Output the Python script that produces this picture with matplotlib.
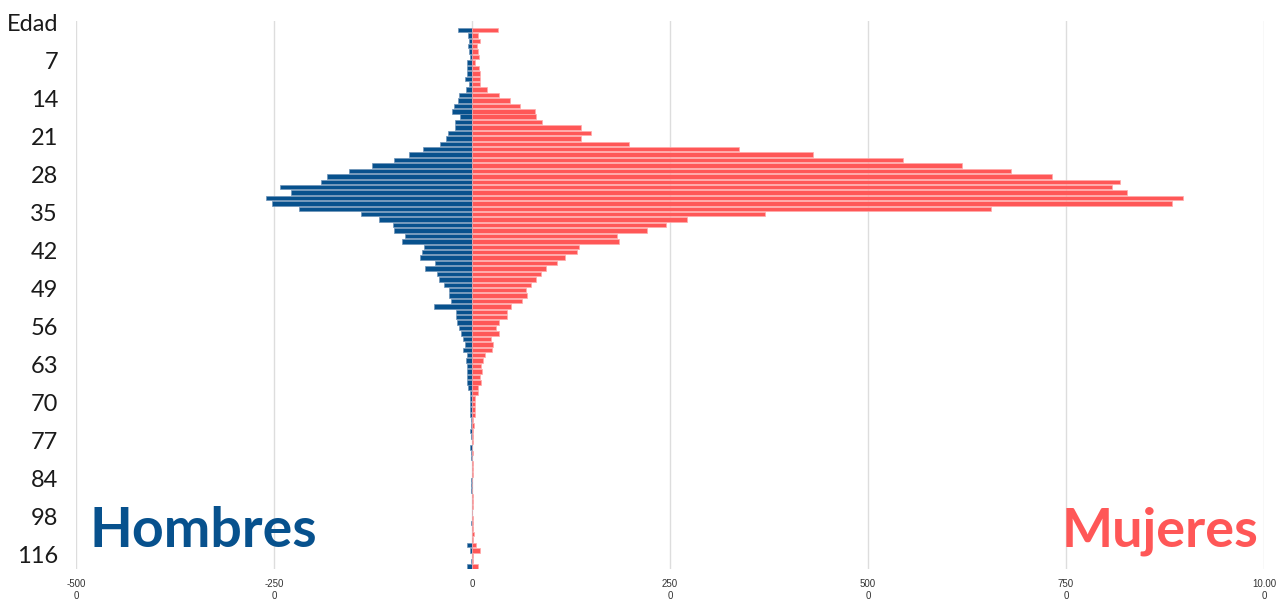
import matplotlib
matplotlib.use("Agg")
import matplotlib.pyplot as plt
import matplotlib.transforms as mtransforms
import numpy as np

# age groups (top row shows "Edad" as axis header)
edades = list(range(0, 85)) + [85, 86, 87, 88, 89, 91, 98, 100, 101, 102, 104,
                               107, 110, 116, 120]

hombres = [180, 50, 34, 55, 42, 26, 60, 60, 60, 93,
           42, 80, 170, 182, 233, 250, 148, 216, 216, 305,
           322, 410, 620, 800, 990, 1260, 1550, 1830, 1910, 2430,
           2290, 2600, 2530, 2180, 1400, 1170, 1000, 980, 840, 880,
           610, 630, 660, 470, 590, 440, 420, 350, 290, 290,
           270, 475, 200, 200, 186, 165, 144, 110, 93, 114,
           68, 80, 59, 59, 68, 59, 50, 30, 20, 30,
           30, 20, 17, 17, 25, 17, 5, 20, 8, 8,
           0, 0, 0, 8, 8, 8, 0, 0, 0, 3,
           0, 8, 0, 0, 0, 59, 20, 0, 8, 59]

mujeres = [330, 80, 100, 63, 72, 84, 34, 84, 100, 100,
           100, 185, 340, 480, 610, 795, 803, 880, 1380, 1500,
           1374, 1980, 3370, 4300, 5440, 6190, 6810, 7320, 8180, 8080,
           8270, 8980, 8840, 6550, 3700, 2710, 2450, 2210, 1830, 1860,
           1350, 1320, 1170, 1070, 930, 875, 810, 740, 680, 690,
           630, 495, 440, 444, 346, 300, 338, 245, 260, 250,
           160, 135, 118, 122, 97, 110, 80, 74, 44, 34,
           34, 38, 17, 20, 17, 8, 13, 5, 8, 0,
           13, 13, 13, 0, 0, 0, 13, 13, 13, 3,
           13, 13, 15, 20, 13, 46, 95, 13, 13, 76]

xticks = [-5000, -2500, 0, 2500, 5000, 7500, 10000]
xtick_labels = ["-500\n0", "-250\n0", "0", "250\n0", "500\n0", "750\n0", "10.00\n0"]

azul = "#07518d"
rojo = "#ff5757"

W, H = 1277, 601
fig = plt.figure(figsize=(W / 100, H / 100), dpi=100)
ax = fig.add_axes([76 / W, (H - 569) / H, (1264 - 76) / W, (569 - 21) / H])

pos = np.arange(len(edades))
ax.barh(pos, -np.array(hombres), height=0.82, color=azul,
        edgecolor="#6f93b8", linewidth=0.5, zorder=2)
ax.barh(pos, mujeres, height=0.82, color=rojo,
        edgecolor="#ffaaaa", linewidth=0.5, zorder=2)

ax.set_xlim(-5000, 10000)
ax.set_ylim(99.45, -1.66)

ax.set_xticks(xticks)
ax.set_xticklabels(xtick_labels, fontsize=7, family="Liberation Sans",
                   color="#333333", linespacing=1.25)
ax.xaxis.grid(True, color="#dddddd", linewidth=1, zorder=0)
ax.set_axisbelow(True)

# y labels every 7 rows, drawn a little above their row like the original
ax.set_yticks([])
lab_tr = ax.get_yaxis_transform() + mtransforms.ScaledTranslation(
    -18 / 100, 5 / 100, fig.dpi_scale_trans)
for i in pos[::7]:
    txt = "Edad" if i == 0 else str(edades[i])
    ax.text(0, i, txt, transform=lab_tr, ha="right", va="center",
            fontsize=17, family="Lato", fontweight="normal", color="#1a1a1a")

ax.tick_params(axis="x", length=0, pad=7)
for s in ax.spines.values():
    s.set_visible(False)

fig.text(90 / W, (H - 547) / H, "Hombres", color=azul, fontsize=40,
         fontweight="bold", family="Lato", ha="left", va="baseline")
fig.text(1258 / W, (H - 547) / H, "Mujeres", color=rojo, fontsize=39,
         fontweight="bold", family="Lato", ha="right", va="baseline")

fig.savefig("out.png", dpi=100)
